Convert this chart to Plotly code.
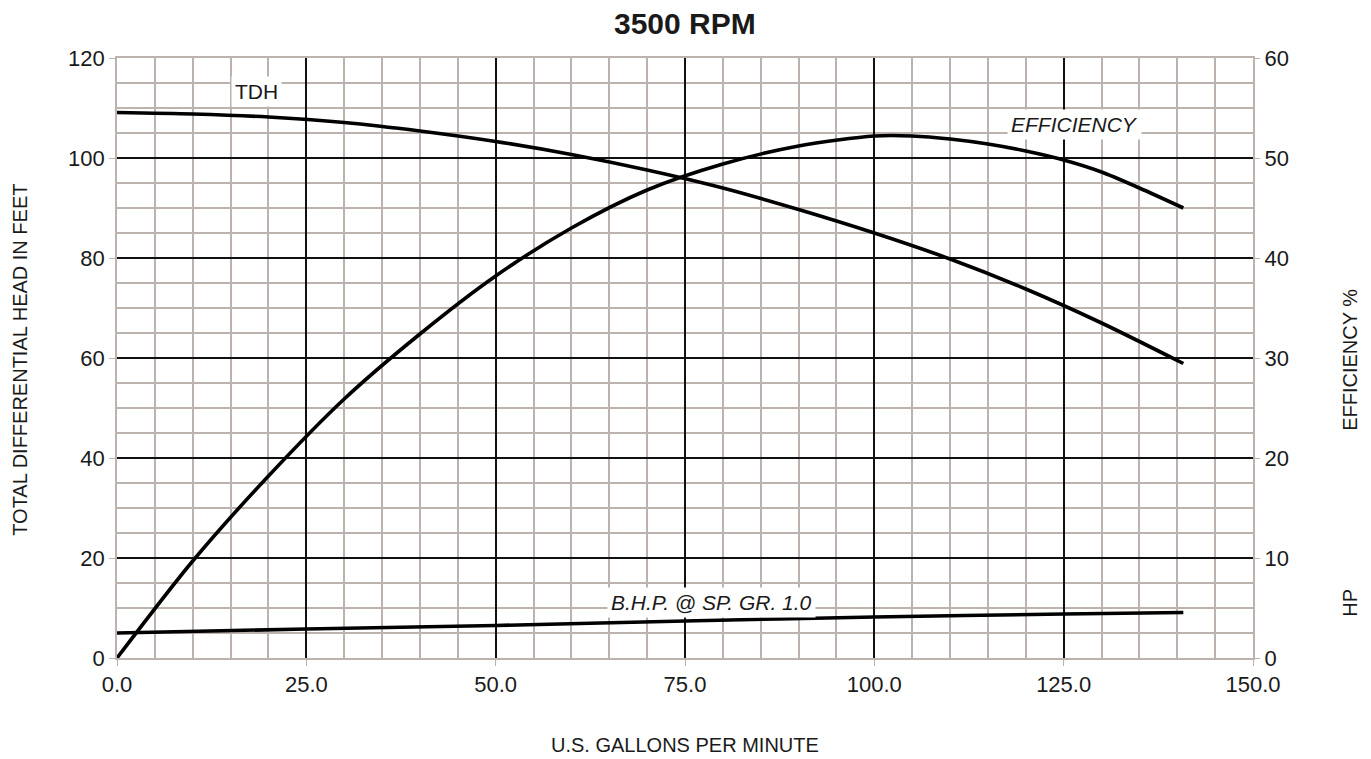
import plotly.graph_objects as go

# ---- data ----
gpm_tdh = [0, 10, 20, 30, 40, 50, 60, 70, 80, 90, 100, 110, 120, 130, 140.8]
tdh_ft = [109.1, 108.8, 108.2, 107.1, 105.4, 103.3, 100.7, 97.6, 94.0, 89.7, 85.0, 79.8, 73.8, 67.0, 58.9]

gpm_eff = [0, 10, 20, 30, 40, 50, 60, 70, 80, 90, 100, 105, 110, 115, 120, 125, 130, 135, 140.8]
eff_pct = [0, 9.7, 18.2, 25.9, 32.4, 38.2, 43.0, 46.8, 49.4, 51.2, 52.2, 52.2, 51.9, 51.4, 50.7, 49.8, 48.6, 47.0, 45.0]

gpm_hp = [0, 25, 50, 75, 100, 125, 140.8]
bhp = [2.5, 2.9, 3.25, 3.7, 4.1, 4.4, 4.55]

x_ticks = [0, 25, 50, 75, 100, 125, 150]
x_tick_labels = ["0.0", "25.0", "50.0", "75.0", "100.0", "125.0", "150.0"]
y_left_ticks = [0, 20, 40, 60, 80, 100, 120]
y_right_ticks = [0, 10, 20, 30, 40, 50, 60]

FONT = "Liberation Sans, Arial, sans-serif"
TXT = "#1a1a1a"
MINOR = "#bdb3ae"
LINE_W = 3.6

fig = go.Figure()
fig.add_trace(go.Scatter(x=gpm_tdh, y=tdh_ft, mode="lines", name="TDH",
                         line=dict(color="black", width=LINE_W, shape="spline", smoothing=0.8)))
fig.add_trace(go.Scatter(x=gpm_eff, y=eff_pct, mode="lines", name="EFFICIENCY", yaxis="y2",
                         line=dict(color="black", width=LINE_W, shape="spline", smoothing=0.8)))
fig.add_trace(go.Scatter(x=gpm_hp, y=bhp, mode="lines", name="BHP", yaxis="y2",
                         line=dict(color="black", width=LINE_W, shape="spline", smoothing=0.8)))

tick_font = dict(size=22, family=FONT, color=TXT)

fig.update_layout(
    width=1363, height=751,
    margin=dict(l=109, r=118, t=50, b=101),
    paper_bgcolor="white", plot_bgcolor="white",
    showlegend=False,
    font=dict(family=FONT, color=TXT, size=20),
    xaxis=dict(
        range=[0, 150], tickvals=x_ticks, ticktext=x_tick_labels,
        showgrid=True, gridcolor="#111111", gridwidth=1.6,
        minor=dict(dtick=5, showgrid=True, gridcolor=MINOR, gridwidth=1.5, ticks=""),
        zeroline=False, showline=True, linecolor=MINOR, linewidth=1.6, mirror=True,
        ticks="outside", ticklen=6, tickcolor=MINOR, tickwidth=1.2,
        tickfont=tick_font,
    ),
    yaxis=dict(
        range=[0, 120], tickvals=y_left_ticks,
        showgrid=True, gridcolor="#111111", gridwidth=1.6,
        minor=dict(dtick=5, showgrid=True, gridcolor=MINOR, gridwidth=1.5, ticks=""),
        zeroline=False, showline=True, linecolor=MINOR, linewidth=1.6, mirror=True,
        ticks="outside", ticklen=6, tickcolor=MINOR, tickwidth=1.2,
        tickfont=tick_font,
    ),
    yaxis2=dict(
        range=[0, 60], tickvals=y_right_ticks, overlaying="y", side="right",
        showgrid=False, zeroline=False,
        ticks="outside", ticklen=6, tickcolor=MINOR, tickwidth=1.2,
        tickfont=tick_font,
    ),
)

annos = [
    dict(text="<b>3500 RPM</b>", xref="paper", yref="paper", x=0.5, y=1.057,
         showarrow=False, font=dict(size=30, family=FONT, color=TXT), yanchor="middle"),
    dict(text="U.S. GALLONS PER MINUTE", xref="paper", yref="paper", x=0.5, y=-0.145,
         showarrow=False, font=dict(size=20, family=FONT, color=TXT), yanchor="middle"),
    dict(text="TOTAL DIFFERENTIAL HEAD IN FEET", xref="paper", yref="paper", x=-0.0854, y=0.497,
         textangle=-90, showarrow=False, font=dict(size=20, family=FONT, color=TXT),
         xanchor="center", yanchor="middle"),
    dict(text="EFFICIENCY %", xref="paper", yref="paper", x=1.0854, y=0.497,
         textangle=-90, showarrow=False, font=dict(size=20, family=FONT, color=TXT),
         xanchor="center", yanchor="middle"),
    dict(text="HP", xref="paper", yref="paper", x=1.0854, y=0.092,
         textangle=-90, showarrow=False, font=dict(size=20, family=FONT, color=TXT),
         xanchor="center", yanchor="middle"),
    dict(text="TDH", x=18.4, y=113.3, xref="x", yref="y", showarrow=False,
         bgcolor="white", font=dict(size=21, family=FONT, color=TXT), borderpad=3),
    dict(text="<i>EFFICIENCY</i>", x=126.4, y=106.7, xref="x", yref="y", showarrow=False,
         bgcolor="white", font=dict(size=21, family=FONT, color=TXT), borderpad=3),
    dict(text="<i>B.H.P. @ SP. GR. 1.0</i>", x=78.5, y=11.1, xref="x", yref="y", showarrow=False,
         bgcolor="white", font=dict(size=21, family=FONT, color=TXT), borderpad=3),
]
fig.update_layout(annotations=annos)

fig.write_html("out.html")
